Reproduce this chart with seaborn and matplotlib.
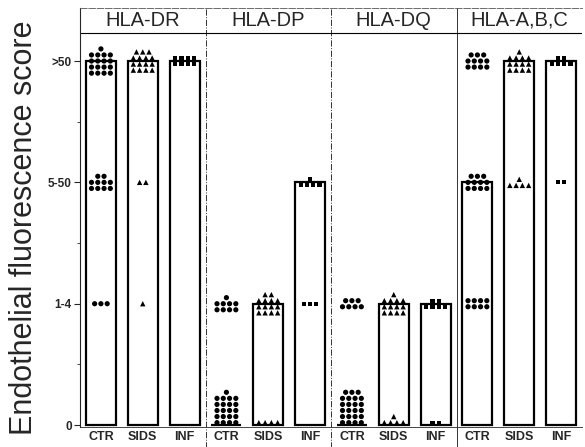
import numpy as np
import pandas as pd
import seaborn as sns
import matplotlib.pyplot as plt

# score levels (ordinal) and groups
levels = ['0', '1-4', '5-50', '>50']
groups = ['HLA-DR', 'HLA-DP', 'HLA-DQ', 'HLA-A,B,C']
cats = ['CTR', 'SIDS', 'INF']

# number of cases at each level (0, 1-4, 5-50, >50)
dr_ctr = [0, 3, 10, 17]
dr_sids = [0, 1, 2, 15]
dr_inf = [0, 0, 0, 8]
dp_ctr = [21, 9, 0, 0]
dp_sids = [4, 14, 0, 0]
dp_inf = [0, 3, 5, 0]
dq_ctr = [23, 7, 0, 0]
dq_sids = [5, 13, 0, 0]
dq_inf = [2, 6, 0, 0]
abc_ctr = [0, 8, 11, 11]
abc_sids = [0, 0, 5, 13]
abc_inf = [0, 0, 2, 6]

counts = {
    'HLA-DR': [dr_ctr, dr_sids, dr_inf],
    'HLA-DP': [dp_ctr, dp_sids, dp_inf],
    'HLA-DQ': [dq_ctr, dq_sids, dq_inf],
    'HLA-A,B,C': [abc_ctr, abc_sids, abc_inf],
}

# one row per case
rows = []
for g in groups:
    for c, cnt in zip(cats, counts[g]):
        for lvl, n in enumerate(cnt):
            rows += [(g, c, g + ' ' + c, lvl)] * n
df = pd.DataFrame(rows, columns=['group', 'cat', 'slot', 'score'])
slots = [g + ' ' + c for g in groups for c in cats]

# dot layout: rows of 4 around each level (like a swarm)
dx, dy, per_row = 0.15, 0.05, 4
px, py = [], []
for (slot, lvl), sub in df.groupby(['slot', 'score'], sort=False):
    n = len(sub)
    nrows = int(np.ceil(n / per_row))
    xc = slots.index(slot)
    for i in range(n):
        r, k = divmod(i, per_row)
        in_row = per_row if r < nrows - 1 or n % per_row == 0 else n % per_row
        x = xc + (k - (in_row - 1) / 2) * dx
        if lvl == 0:
            y = 0.02 + r * dy
        else:
            y = lvl + (r - (nrows - 1) / 2) * dy
        px.append(x)
        py.append(y)
dots = df.copy()
dots['x'] = px
dots['y'] = py

sns.set_style('ticks')
plt.rcParams['font.family'] = ['Liberation Sans', 'DejaVu Sans']

fig = plt.figure(figsize=(5.85, 4.47), dpi=100)
ax = fig.add_axes([80 / 585, 1 - 427 / 447, 502 / 585, 419 / 447])

sns.barplot(data=df, x='slot', y='score', order=slots, estimator='median',
            errorbar=None, color='white', edgecolor='black', linewidth=1.6,
            width=0.72, ax=ax, zorder=2)
sns.scatterplot(data=dots, x='x', y='y', style='cat', size='cat',
                markers={'CTR': 'o', 'SIDS': '^', 'INF': 's'},
                sizes={'CTR': 14, 'SIDS': 15, 'INF': 9},
                color='black', linewidth=0, legend=False, ax=ax, zorder=3)

ax.set_xlim(-0.5, 11.5)
ax.set_ylim(-0.016, 3.437)
ax.set_xticks(range(12))
ax.set_xticklabels(cats * 4, fontsize=9, fontweight='bold')
ax.tick_params(axis='x', length=0, pad=3)
ax.set_yticks(range(4))
ax.set_yticklabels(levels, fontsize=8.5, fontweight='bold')
ax.set_yticks([0.5, 1.5, 2.5], minor=True)
ax.tick_params(axis='y', which='major', length=4, width=0.8, pad=2)
ax.tick_params(axis='y', which='minor', length=2, width=0.6)
ax.set_xlabel('')
ax.set_ylabel('')

ax.spines['right'].set_visible(False)
ax.spines['top'].set_linewidth(0.6)
ax.spines['top'].set_color('#555555')
ax.spines['top'].set_linestyle((0, (8, 2)))
ax.spines['left'].set_linewidth(0.8)
ax.spines['bottom'].set_linewidth(0.6)

# group separators and header
for xs, ls in zip([2.5, 5.5, 8.5], ['-.', '-.', '-']):
    ax.axvline(xs, ymin=-0.05, ymax=1, color='#333333', lw=0.7, ls=ls,
               clip_on=False, zorder=1)
ax.axhline(3.23, color='black', lw=0.8, zorder=1)
for i, g in enumerate(groups):
    ax.text(3 * i + 1, 3.335, g, ha='center', va='center', fontsize=14.5)

fig.text(24 / 585, 0.49, 'Endothelial fluorescence score', rotation=90,
         ha='center', va='center', fontsize=22)

plt.savefig('out.png', dpi=100)
